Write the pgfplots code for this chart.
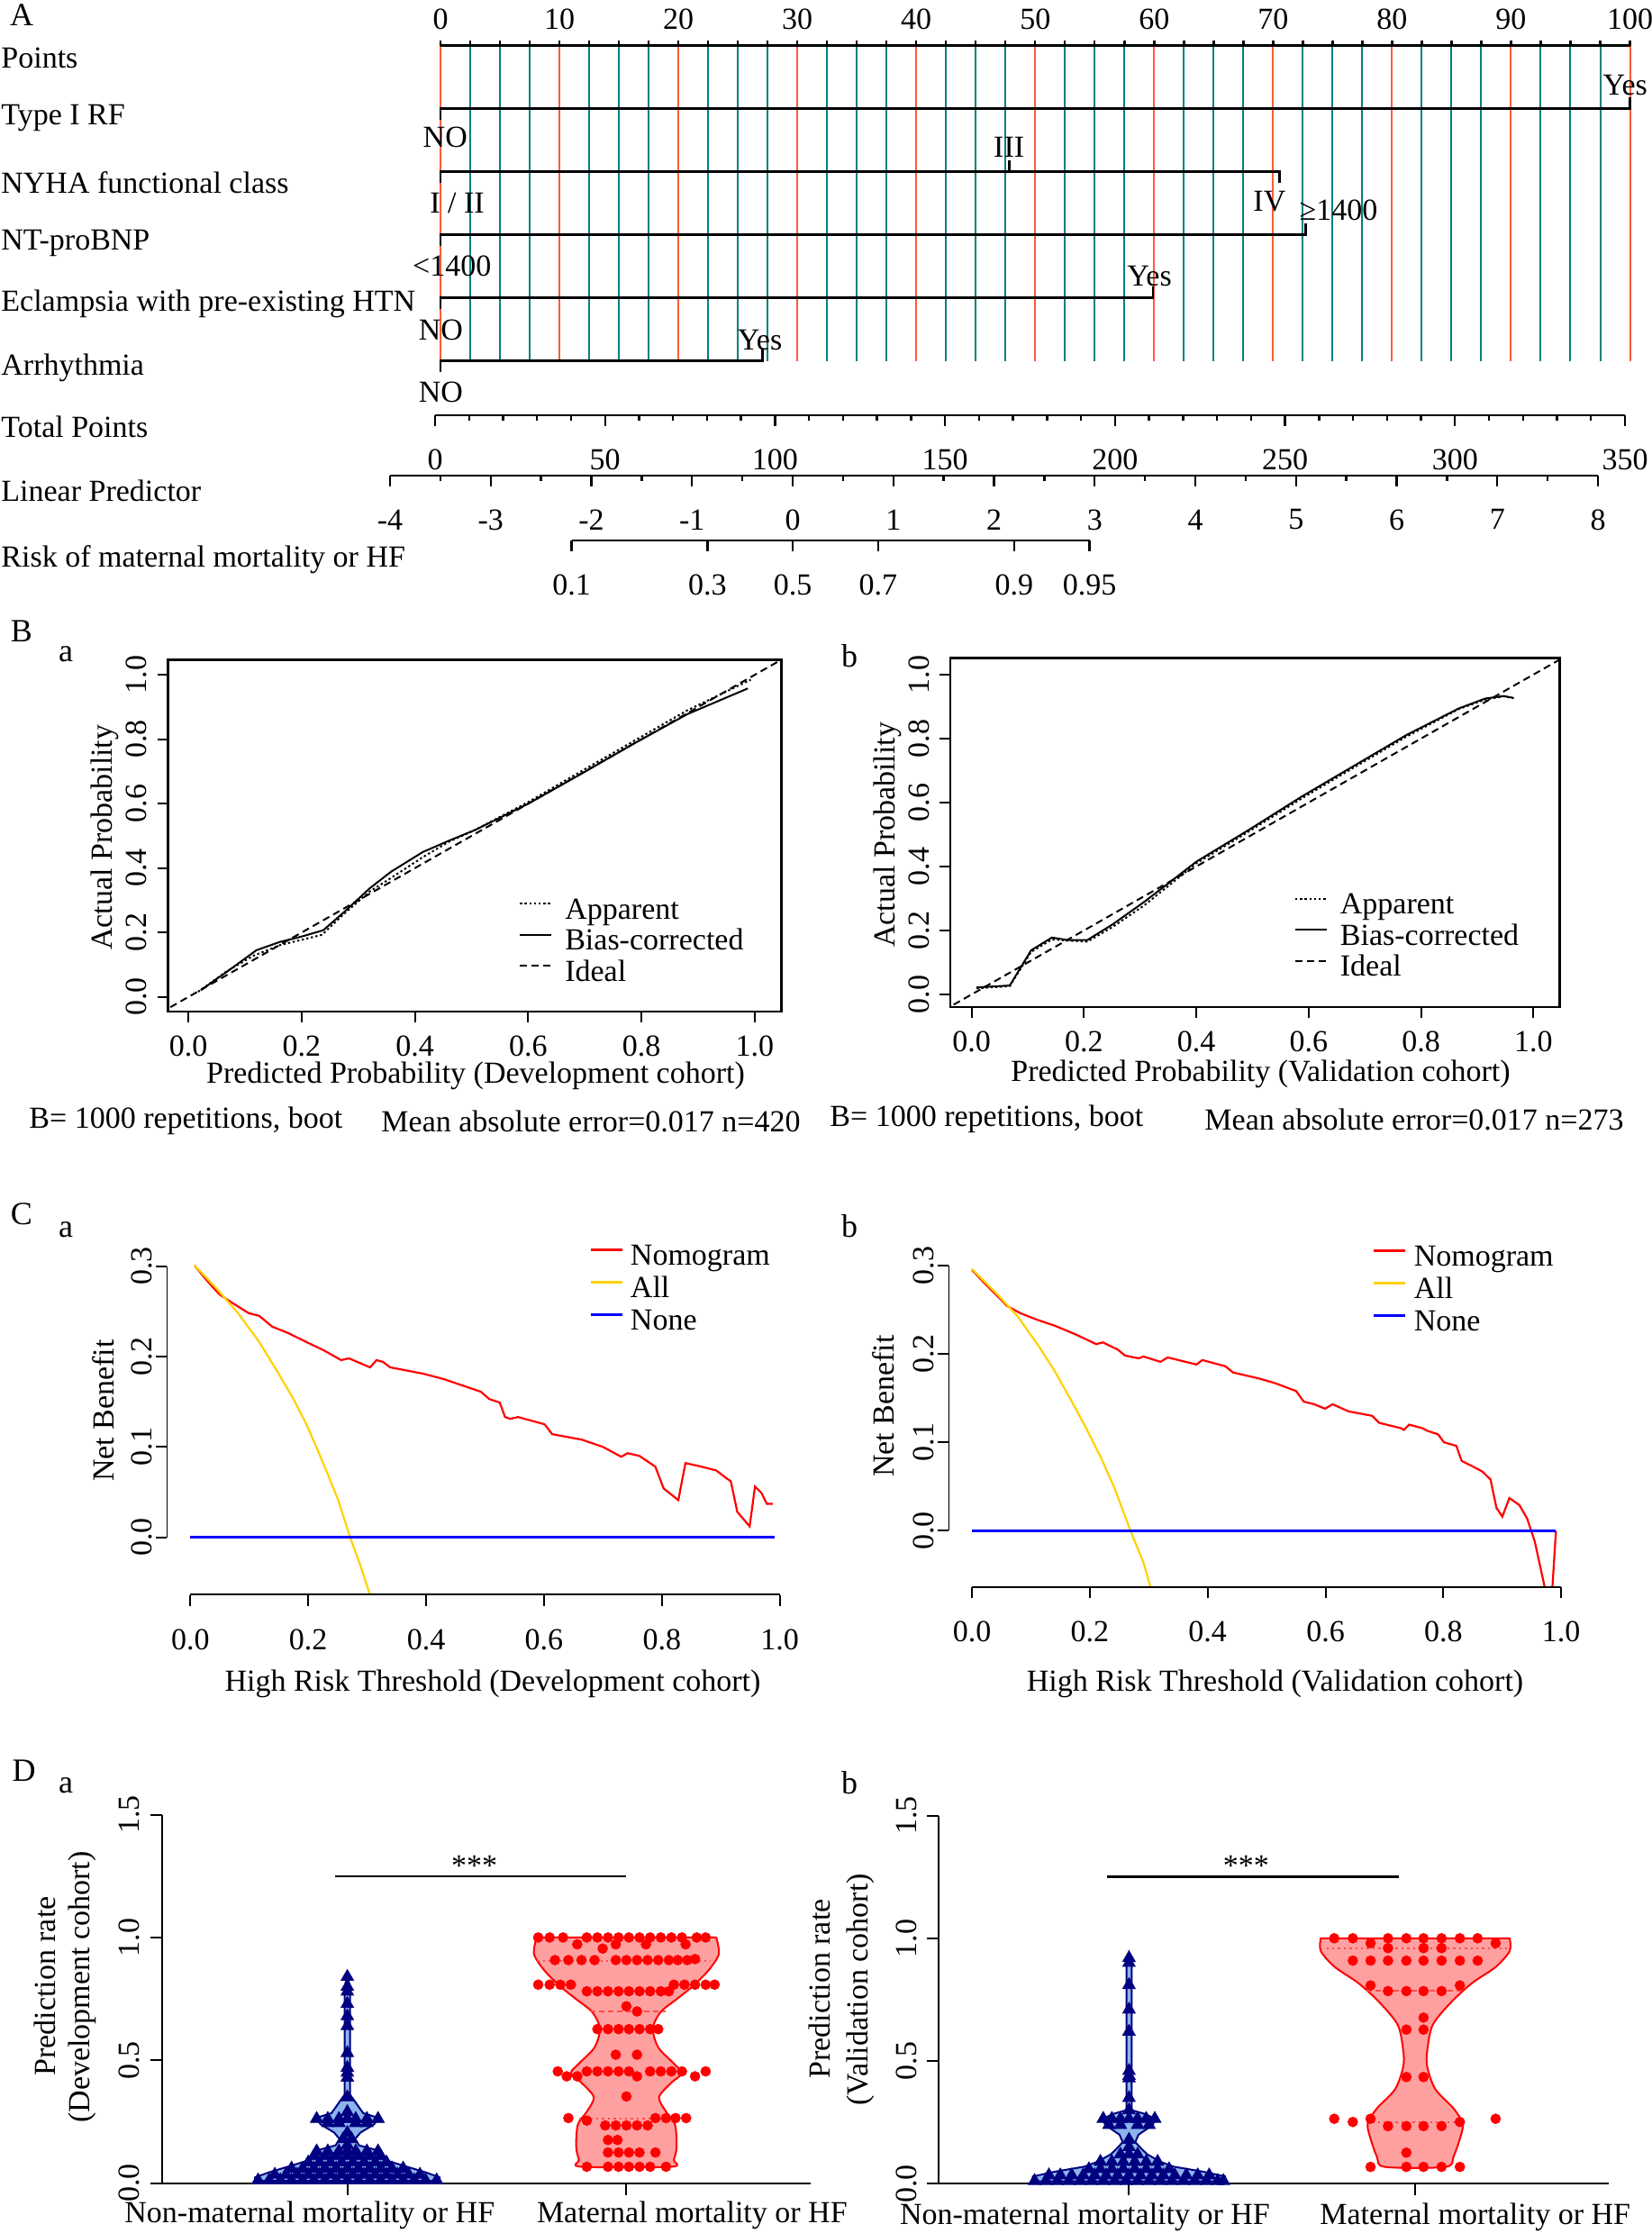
\documentclass[border=0pt]{standalone}
\usepackage{fontspec}
\setmainfont{Liberation Serif}
\usepackage{pgfplots}
\pgfplotsset{compat=1.18}

\definecolor{gridred}{RGB}{255,90,60}
\definecolor{gridteal}{RGB}{0,130,125}
\definecolor{dcared}{RGB}{255,0,0}
\definecolor{dcayellow}{RGB}{255,210,0}
\definecolor{dcablue}{RGB}{0,0,255}
\definecolor{vnavy}{RGB}{0,0,128}
\definecolor{vlblue}{RGB}{140,180,235}
\definecolor{vpink}{RGB}{255,160,160}

\pgfplotsset{
  scale only axis,
  px/.style 2 args={at={({#1*0.5pt},{-#2*0.5pt})}},
  nomoscale/.style={anchor=south west, axis x line=bottom, axis y line=none,
    axis line style={-, line width=1.4pt}, tick align=outside,
    tick style={black, line width=1.2pt}, major tick length=6pt, minor tick length=3pt,
    ymin=0, ymax=1, height=1pt, xticklabel style={yshift=-7pt}},
  calib/.style={anchor=south west, axis line style={line width=1.2pt},
    tick align=outside, xtick pos=left, ytick pos=left,
    tick style={black, line width=1pt}, major tick length=6pt,
    xtick={0,0.2,0.4,0.6,0.8,1}, xticklabels={0.0,0.2,0.4,0.6,0.8,1.0},
    ytick={0,0.2,0.4,0.6,0.8,1}, yticklabels={0.0,0.2,0.4,0.6,0.8,1.0},
    yticklabel style={rotate=90, anchor=south}, xticklabel style={yshift=-1.5pt},
    legend cell align=left,
    legend image code/.code={\draw[#1] (0pt,4pt) -- (17.5pt,4pt);},
    legend style={draw=none, fill=none, row sep=2.25pt, column sep=3pt,
      nodes={inner ysep=0pt, inner xsep=4pt, text height=12pt, text depth=3pt}}},
  dca/.style={anchor=south west, axis line style={draw=none},
    xmin=-0.04, xmax=1.04, ymin=-0.064, ymax=0.314,
    tick align=outside, xtick pos=left, ytick pos=left,
    tick style={black, line width=1pt}, major tick length=6pt,
    xtick={0,0.2,0.4,0.6,0.8,1}, xticklabels={0.0,0.2,0.4,0.6,0.8,1.0},
    ytick={0,0.1,0.2,0.3}, yticklabels={0.0,0.1,0.2,0.3},
    yticklabel style={rotate=90, anchor=south}, yticklabel shift=-4pt,
    xticklabel style={yshift=-7pt},
    legend cell align=left,
    legend image code/.code={\draw[#1] (0pt,4pt) -- (17.5pt,4pt);},
    legend style={draw=none, fill=none, row sep=3pt,
      nodes={inner ysep=0pt, inner xsep=4pt, text height=12pt, text depth=3pt}}},
  viol/.style={anchor=south west, axis x line=bottom, axis y line=left,
    axis line style={-, line width=1pt}, tick align=outside,
    tick style={black, line width=1pt}, major tick length=6.5pt,
    ymin=0, ymax=1.5, xtick={1,2}, xticklabels={{},{}},
    ytick={0,0.5,1,1.5}, yticklabels={0.0,0.5,1.0,1.5},
    yticklabel style={rotate=90, anchor=south}, clip=false},
}

\begin{document}
\fontsize{17}{20}\selectfont
\begin{tikzpicture}
\path[use as bounding box] (0pt,0pt) rectangle (917pt,-1239.5pt);

% ---------------- A: nomogram ----------------
\begin{axis}[px={489}{401.2}, anchor=south west,
  width=660.25pt, height=175.25pt,
  xmin=0, xmax=100, ymin=-5.015, ymax=0,
  axis x line=top, axis y line=none,
  axis line style={-, line width=1.4pt},
  xtick={0,10,...,100}, xticklabels={0,10,20,30,40,50,60,70,80,90,100},
  minor x tick num=3, tick align=outside,
  major tick length=3pt, minor tick length=3pt,
  tick style={black, line width=1.2pt},
  xmajorgrids, xminorgrids,
  major grid style={gridred, line width=1pt},
  minor grid style={gridteal, line width=1pt},
  clip=false]
\addplot[black, line width=1.4pt] coordinates {(0,-1.18) (0,-1) (100,-1) (100,-0.82)};
\addplot[black, line width=1.4pt] coordinates {(0,-2.18) (0,-2) (70.55,-2) (70.55,-2.18)};
\addplot[black, line width=1.4pt] coordinates {(47.8,-2) (47.8,-1.82)};
\addplot[black, line width=1.4pt] coordinates {(0,-3.18) (0,-3) (72.75,-3) (72.75,-2.82)};
\addplot[black, line width=1.4pt] coordinates {(0,-4.18) (0,-4) (59.9,-4) (59.9,-3.82)};
\addplot[black, line width=1.4pt] coordinates {(0,-5.18) (0,-5) (27.1,-5) (27.1,-4.82)};
\node[inner sep=0pt] at (axis cs:99.6,-0.634) {Yes};
\node[inner sep=0pt] at (axis cs:0.4,-1.449) {NO};
\node[inner sep=0pt] at (axis cs:47.8,-1.607) {III};
\node[inner sep=0pt] at (axis cs:1.41,-2.5) {I / II};
\node[inner sep=0pt] at (axis cs:69.7,-2.48) {IV};
\node[inner sep=0pt] at (axis cs:0.97,-3.495) {<1400};
\node[inner sep=0pt] at (axis cs:75.5,-2.62) {≥1400};
\node[inner sep=0pt] at (axis cs:0.03,-4.51) {NO};
\node[inner sep=0pt] at (axis cs:59.6,-3.66) {Yes};
\node[inner sep=0pt] at (axis cs:0.03,-5.5) {NO};
\node[inner sep=0pt] at (axis cs:26.85,-4.67) {Yes};
\end{axis}

% Total points
\begin{axis}[nomoscale, px={483}{461}, width=660.5pt,
  xmin=0, xmax=350, xtick={0,50,...,350},
  xticklabels={0,50,100,150,200,250,300,350}, minor x tick num=4]
\addplot[draw=none] coordinates {(0,0)};
\end{axis}
% Linear predictor
\begin{axis}[nomoscale, px={433}{528}, width=670.5pt,
  xmin=-4, xmax=8, xtick={-4,-3,...,8},
  xticklabels={-4,-3,-2,-1,0,1,2,3,4,5,6,7,8}, minor x tick num=1]
\addplot[draw=none] coordinates {(0,0)};
\end{axis}
% Risk (placed on the linear predictor scale)
\begin{axis}[nomoscale, px={634.5}{600}, width=287.5pt,
  xmin=-2.1972, xmax=2.9444,
  xtick={-2.1972,-0.8473,0,0.8473,2.1972,2.9444},
  xticklabels={0.1,0.3,0.5,0.7,0.9,0.95}]
\addplot[draw=none] coordinates {(0,0)};
\end{axis}

\begin{scope}[x=0.5pt, y=-0.5pt, every node/.style={inner sep=0pt}]
\node[font=\fontsize{18}{20}\selectfont] at (24,17) {A};
\node[anchor=west] at (1,64) {Points};
\node[anchor=west] at (1,131) {Type I RF};
\node[anchor=west] at (1,203) {NYHA functional class};
\node[anchor=west] at (1,270) {NT-proBNP};
\node[anchor=west] at (1,337) {Eclampsia with pre-existing HTN};
\node[anchor=west] at (1,408.5) {Arrhythmia};
\node[anchor=west] at (1,474) {Total Points};
\node[anchor=west] at (1,545) {Linear Predictor};
\node[anchor=west] at (1,621) {Risk of maternal mortality or HF};
\end{scope}

% ---------------- B: calibration ----------------
\begin{axis}[calib, px={186.6}{1122.8}, width=340.4pt, height=195.2pt,
  xmin=-0.036, xmax=1.047, ymin=-0.045, ymax=1.047,
  legend style={at={(0.563,0.335)}, anchor=north west}]
\addplot[black, line width=1pt, dash pattern=on 1.2pt off 1.4pt] coordinates {
(0.017,0.016) (0.068,0.080) (0.115,0.128) (0.162,0.161) (0.199,0.177) (0.236,0.193)
(0.274,0.257) (0.320,0.327) (0.367,0.380) (0.414,0.434) (0.460,0.482) (0.507,0.519)
(0.600,0.605) (0.694,0.701) (0.787,0.795) (0.880,0.889) (0.993,0.985)};
\addlegendentry{Apparent}
\addplot[black, line width=1pt] coordinates {
(0.022,0.021) (0.078,0.091) (0.120,0.145) (0.162,0.171) (0.199,0.187) (0.238,0.207)
(0.274,0.262) (0.320,0.337) (0.358,0.389) (0.414,0.450) (0.460,0.485) (0.507,0.519)
(0.600,0.600) (0.694,0.693) (0.787,0.787) (0.881,0.878) (0.988,0.958)};
\addlegendentry{Bias-corrected}
\addplot[black, line width=1pt, dash pattern=on 4pt off 2.5pt] coordinates {(-0.05,-0.05) (1.06,1.06)};
\addlegendentry{Ideal}
\end{axis}

\begin{axis}[calib, px={1055.2}{1118.2}, width=338.1pt, height=193.85pt,
  xmin=-0.0375, xmax=1.0467, ymin=-0.04, ymax=1.0518,
  legend style={at={(0.555,0.34)}, anchor=north west}]
\addplot[black, line width=1pt, dash pattern=on 1.2pt off 1.4pt] coordinates {
(0.009,0.019) (0.068,0.026) (0.106,0.133) (0.143,0.172) (0.176,0.168) (0.206,0.165)
(0.251,0.211) (0.307,0.278) (0.353,0.343) (0.400,0.410) (0.494,0.510) (0.587,0.612)
(0.680,0.709) (0.774,0.806) (0.867,0.892) (0.914,0.922) (0.947,0.932) (0.965,0.926)};
\addlegendentry{Apparent}
\addplot[black, line width=1pt] coordinates {
(0.009,0.022) (0.068,0.028) (0.106,0.138) (0.143,0.178) (0.171,0.170) (0.206,0.170)
(0.251,0.219) (0.307,0.289) (0.353,0.351) (0.400,0.415) (0.494,0.515) (0.587,0.618)
(0.680,0.714) (0.774,0.811) (0.867,0.894) (0.914,0.925) (0.947,0.933) (0.965,0.927)};
\addlegendentry{Bias-corrected}
\addplot[black, line width=1pt, dash pattern=on 4pt off 2.5pt] coordinates {(-0.05,-0.05) (1.06,1.06)};
\addlegendentry{Ideal}
\end{axis}

\begin{scope}[x=0.5pt, y=-0.5pt, every node/.style={inner sep=0pt}]
\node[font=\fontsize{18}{20}\selectfont] at (24,700.7) {B};
\node[font=\fontsize{18}{20}\selectfont] at (73,726.7) {a};
\node[font=\fontsize{18}{20}\selectfont] at (943,728) {b};
\node at (528,1194) {Predicted Probability (Development cohort)};
\node[rotate=90] at (116,929.7) {Actual Probability};
\node[anchor=west] at (32,1244.5) {B= 1000 repetitions, boot};
\node[anchor=east] at (889,1244.5) {Mean absolute error=0.017 n=420};
\node at (1399.5,1192) {Predicted Probability (Validation cohort)};
\node[rotate=90] at (985.3,926.8) {Actual Probability};
\node[anchor=west] at (921,1242.6) {B= 1000 repetitions, boot};
\node[anchor=east] at (1803,1242.6) {Mean absolute error=0.017 n=273};
\end{scope}

% ---------------- C: decision curves ----------------
\begin{axis}[dca, px={185.1}{1770.7}, width=353.35pt, height=189.55pt,
  legend style={at={(0.655,1.041)}, anchor=north west}]
\addplot[dcared, line width=1.1pt] coordinates {
(0.007,0.301) (0.027,0.285) (0.049,0.269) (0.072,0.259) (0.099,0.248) (0.117,0.245)
(0.139,0.233) (0.166,0.226) (0.197,0.216) (0.226,0.207) (0.256,0.196) (0.269,0.198)
(0.305,0.188) (0.316,0.196) (0.327,0.194) (0.339,0.188) (0.395,0.181) (0.430,0.175)
(0.466,0.167) (0.493,0.161) (0.507,0.153) (0.525,0.149) (0.534,0.133) (0.543,0.131)
(0.556,0.133) (0.601,0.125) (0.614,0.114) (0.664,0.108) (0.700,0.100) (0.731,0.089)
(0.742,0.093) (0.762,0.090) (0.789,0.078) (0.803,0.054) (0.828,0.041) (0.840,0.082)
(0.861,0.079) (0.892,0.074) (0.910,0.065) (0.917,0.062) (0.928,0.028) (0.949,0.012)
(0.958,0.056) (0.969,0.049) (0.978,0.037) (0.988,0.037)};
\addlegendentry{Nomogram}
\addplot[dcayellow, line width=1.1pt] coordinates {
(0.007,0.301) (0.045,0.275) (0.081,0.248) (0.117,0.216) (0.148,0.183) (0.175,0.153)
(0.197,0.125) (0.215,0.098) (0.233,0.070) (0.251,0.041) (0.271,0.000) (0.289,-0.032)
(0.305,-0.064)};
\addlegendentry{All}
\addplot[dcablue, line width=1.3pt] coordinates {(0,0) (0.991,0)};
\addlegendentry{None}
\draw[line width=1pt] (axis cs:-0.04,0) -- (axis cs:-0.04,0.3);
\draw[line width=1.6pt] (axis cs:0,-0.064) -- (axis cs:1,-0.064);
\end{axis}

\begin{axis}[dca, px={1052.9}{1762.2}, width=353.25pt, height=185.55pt,
  legend style={at={(0.658,1.038)}, anchor=north west}]
\addplot[dcared, line width=1.1pt] coordinates {
(0.000,0.295) (0.024,0.278) (0.042,0.266) (0.060,0.254) (0.082,0.246) (0.113,0.238)
(0.140,0.232) (0.176,0.222) (0.211,0.211) (0.222,0.213) (0.247,0.205) (0.260,0.198)
(0.283,0.195) (0.291,0.197) (0.320,0.191) (0.332,0.196) (0.381,0.188) (0.391,0.193)
(0.430,0.186) (0.443,0.179) (0.488,0.172) (0.514,0.167) (0.550,0.158) (0.563,0.146)
(0.581,0.143) (0.599,0.138) (0.612,0.143) (0.639,0.135) (0.679,0.130) (0.691,0.122)
(0.728,0.116) (0.733,0.114) (0.742,0.120) (0.764,0.116) (0.773,0.113) (0.791,0.109)
(0.801,0.100) (0.822,0.096) (0.831,0.079) (0.849,0.073) (0.866,0.067) (0.880,0.058)
(0.890,0.026) (0.900,0.016) (0.912,0.037) (0.929,0.029) (0.942,0.014) (0.955,-0.012)
(0.972,-0.064) (0.985,-0.064) (0.991,0.000)};
\addlegendentry{Nomogram}
\addplot[dcayellow, line width=1.1pt] coordinates {
(0.000,0.296) (0.042,0.268) (0.078,0.242) (0.113,0.209) (0.140,0.181) (0.167,0.149)
(0.193,0.117) (0.220,0.081) (0.242,0.048) (0.269,0.000) (0.291,-0.036) (0.303,-0.064)};
\addlegendentry{All}
\addplot[dcablue, line width=1.3pt] coordinates {(0,0) (0.991,0)};
\addlegendentry{None}
\draw[line width=1pt] (axis cs:-0.04,0) -- (axis cs:-0.04,0.3);
\draw[line width=1.6pt] (axis cs:0,-0.064) -- (axis cs:1,-0.064);
\end{axis}

\begin{scope}[x=0.5pt, y=-0.5pt, every node/.style={inner sep=0pt}]
\node[font=\fontsize{18}{20}\selectfont] at (24,1347.5) {C};
\node[font=\fontsize{18}{20}\selectfont] at (73,1365) {a};
\node[font=\fontsize{18}{20}\selectfont] at (943,1361) {b};
\node at (547,1869) {High Risk Threshold (Development cohort)};
\node[rotate=90] at (114.4,1566) {Net Benefit};
\node at (1415.5,1869) {High Risk Threshold (Validation cohort)};
\node[rotate=90] at (981,1561) {Net Benefit};
\end{scope}

% ---------------- D: violin plots ----------------
\begin{axis}[viol, px={180.2}{2423.7}, width=359.85pt, height=204.6pt,
  xmin=0.337, xmax=2.66]
\addplot[draw=vnavy, fill=vlblue, line width=1pt] coordinates {
(1.331,0.01) (1.331,0.0235) (1.284,0.043) (1.208,0.069) (1.133,0.095) (1.104,0.135)
(1.042,0.154) (1.028,0.18) (1.047,0.206) (1.095,0.239) (1.114,0.265) (1.057,0.285)
(1.01,0.36) (1.01,0.80) (1.0,0.84) (0.99,0.80) (0.99,0.36) (0.943,0.285) (0.886,0.265)
(0.905,0.239) (0.953,0.206) (0.972,0.18) (0.958,0.154) (0.896,0.135) (0.867,0.095)
(0.792,0.069) (0.716,0.043) (0.669,0.0235) (0.669,0.01)} -- cycle;
\addplot[only marks, mark=triangle*, mark size=4pt, vnavy] coordinates {
(0.68,0.012) (0.72,0.012) (0.76,0.012) (0.80,0.012) (0.84,0.012) (0.88,0.012) (0.92,0.012)
(0.96,0.012) (1.00,0.012) (1.04,0.012) (1.08,0.012) (1.12,0.012) (1.16,0.012) (1.20,0.012)
(1.24,0.012) (1.28,0.012) (1.32,0.012)
(0.74,0.035) (0.78,0.035) (0.82,0.035) (0.86,0.035) (0.90,0.035) (0.94,0.035) (0.98,0.035)
(1.02,0.035) (1.06,0.035) (1.10,0.035) (1.14,0.035) (1.18,0.035) (1.22,0.035) (1.26,0.035)
(0.80,0.06) (0.84,0.06) (0.88,0.06) (0.92,0.06) (0.96,0.06) (1.00,0.06) (1.04,0.06)
(1.08,0.06) (1.12,0.06) (1.16,0.06) (1.20,0.06)
(0.86,0.085) (0.90,0.085) (0.94,0.085) (0.98,0.085) (1.02,0.085) (1.06,0.085) (1.10,0.085) (1.14,0.085)
(0.88,0.11) (0.92,0.11) (0.96,0.11) (1.00,0.11) (1.04,0.11) (1.08,0.11) (1.12,0.11)
(0.89,0.13) (0.93,0.13) (0.97,0.13) (1.00,0.13) (1.03,0.13) (1.07,0.13) (1.11,0.13)
(1.0,0.155) (0.985,0.18) (1.015,0.18) (1.0,0.205)
(0.93,0.245) (0.97,0.245) (1.03,0.245) (1.07,0.245)
(0.89,0.262) (0.93,0.262) (0.97,0.262) (1.00,0.262) (1.03,0.262) (1.07,0.262) (1.11,0.262)
(1,0.29) (1,0.35) (1,0.43) (1,0.45) (1,0.47) (1,0.53) (1,0.64) (1,0.68) (1,0.73)
(1,0.78) (1,0.80) (1,0.84)};
\addplot[draw=dcared, fill=vpink, line width=1pt, smooth, tension=0.5] coordinates {
(2.322,1.0) (2.331,0.932) (2.294,0.866) (2.237,0.801) (2.18,0.749) (2.123,0.697)
(2.095,0.631) (2.114,0.553) (2.17,0.487) (2.199,0.448) (2.161,0.409) (2.117,0.35)
(2.142,0.291) (2.174,0.239) (2.18,0.148) (2.17,0.095) (2.161,0.067)
(1.839,0.067) (1.83,0.095) (1.82,0.148) (1.826,0.239) (1.858,0.291) (1.883,0.35)
(1.839,0.409) (1.801,0.448) (1.83,0.487) (1.886,0.553) (1.905,0.631) (1.877,0.697)
(1.82,0.749) (1.763,0.801) (1.706,0.866) (1.669,0.932) (1.678,1.0)} -- cycle;
\addplot[dcared!70, line width=1pt, dash pattern=on 1.2pt off 2pt] coordinates {(1.68,0.903) (2.30,0.903)};
\addplot[dcared!70, line width=1pt, dash pattern=on 3pt off 2pt] coordinates {(1.87,0.70) (2.14,0.70)};
\addplot[dcared!70, line width=1pt, dash pattern=on 1.2pt off 2pt] coordinates {(1.83,0.263) (2.18,0.263)};
\addplot[only marks, mark=*, mark size=2.7pt, dcared] coordinates {
(1.684,1.0) (1.725,1.0) (1.773,1.0) (1.858,1.0) (1.896,1.0) (1.934,1.0) (1.972,1.0)
(2.009,1.0) (2.047,1.0) (2.085,1.0) (2.123,1.0) (2.161,1.0) (2.199,1.0) (2.252,1.0) (2.284,1.0)
(1.824,0.972) (1.962,0.972) (2.07,0.972) (2.212,0.972) (1.915,0.955)
(1.744,0.908) (1.792,0.908) (1.839,0.908) (1.886,0.908) (1.962,0.908) (2.0,0.908) (2.038,0.908)
(2.076,0.908) (2.114,0.908) (2.152,0.908) (2.184,0.908) (2.218,0.908) (2.246,0.912)
(1.684,0.808) (1.725,0.808) (1.763,0.808) (1.801,0.808) (2.17,0.808) (2.208,0.808)
(2.246,0.808) (2.284,0.808) (2.316,0.808)
(1.858,0.781) (1.896,0.781) (1.934,0.781) (1.972,0.781) (2.009,0.781) (2.047,0.781)
(2.085,0.781) (2.123,0.781) (2.152,0.781)
(2.0,0.72) (2.038,0.699)
(1.896,0.627) (1.934,0.627) (1.972,0.627) (2.009,0.627) (2.047,0.627) (2.085,0.627) (2.114,0.627)
(1.962,0.523) (2.038,0.523)
(1.754,0.455) (1.858,0.455) (1.896,0.455) (1.934,0.455) (1.972,0.455) (2.009,0.455)
(2.085,0.455) (2.123,0.455) (2.161,0.455) (2.199,0.455) (2.284,0.455)
(1.786,0.435) (1.824,0.435) (2.038,0.435) (2.246,0.435)
(2.0,0.353)
(1.792,0.265) (2.104,0.265) (2.142,0.265) (2.176,0.265) (2.214,0.265) (1.858,0.255)
(1.924,0.235) (1.962,0.235) (2.0,0.235) (2.038,0.235) (2.076,0.235)
(1.934,0.176) (1.968,0.176)
(1.934,0.125) (1.972,0.125) (2.009,0.125) (2.047,0.125) (2.104,0.125)
(1.858,0.067) (1.934,0.067) (1.972,0.067) (2.009,0.067) (2.047,0.067) (2.085,0.067) (2.142,0.067)};
\draw[line width=1.2pt] (axis cs:0.9545,1.248) -- (axis cs:2.0,1.248);
\end{axis}

\begin{axis}[viol, px={1042.4}{2424.4}, width=371.6pt, height=204.45pt,
  xmin=0.336, xmax=2.675]
\addplot[draw=vnavy, fill=vlblue, line width=1pt] coordinates {
(1.336,0.01) (1.336,0.03) (1.257,0.05) (1.156,0.07) (1.11,0.09) (1.064,0.12) (1.046,0.14)
(1.022,0.17) (1.033,0.2) (1.083,0.24) (1.092,0.265) (1.055,0.285) (1.009,0.3) (1.009,0.9)
(1.0,0.94) (0.991,0.9) (0.991,0.3) (0.945,0.285) (0.908,0.265) (0.917,0.24) (0.967,0.2)
(0.978,0.17) (0.954,0.14) (0.936,0.12) (0.89,0.09) (0.844,0.07) (0.743,0.05) (0.664,0.03)
(0.664,0.01)} -- cycle;
\addplot[only marks, mark=triangle*, mark size=4pt, vnavy] coordinates {
(0.67,0.012) (0.71,0.012) (0.75,0.012) (0.79,0.012) (0.83,0.012) (0.87,0.012) (0.91,0.012)
(0.95,0.012) (0.99,0.012) (1.03,0.012) (1.07,0.012) (1.11,0.012) (1.15,0.012) (1.19,0.012)
(1.23,0.012) (1.27,0.012) (1.31,0.012) (1.33,0.012)
(0.72,0.035) (0.76,0.035) (0.80,0.035) (0.84,0.035) (0.88,0.035) (0.92,0.035) (0.96,0.035)
(1.00,0.035) (1.04,0.035) (1.08,0.035) (1.12,0.035) (1.16,0.035) (1.20,0.035) (1.24,0.035) (1.28,0.035)
(0.86,0.06) (0.90,0.06) (0.94,0.06) (0.98,0.06) (1.02,0.06) (1.06,0.06) (1.10,0.06) (1.14,0.06)
(0.90,0.09) (0.94,0.09) (0.98,0.09) (1.02,0.09) (1.06,0.09) (1.10,0.09)
(0.97,0.12) (1.0,0.12) (1.03,0.12) (1.0,0.15) (1.0,0.18)
(0.93,0.24) (0.97,0.24) (1.03,0.24) (1.07,0.24)
(0.91,0.265) (0.94,0.265) (0.97,0.265) (1.0,0.265) (1.03,0.265) (1.06,0.265) (1.09,0.265)
(1,0.30) (1,0.35) (1,0.43) (1,0.44) (1,0.46) (1,0.62) (1,0.71) (1,0.81) (1,0.90) (1,0.92)};
\addplot[draw=dcared, fill=vpink, line width=1pt, smooth, tension=0.5] coordinates {
(2.33,1.0) (2.33,0.948) (2.281,0.883) (2.198,0.817) (2.125,0.739) (2.061,0.647)
(2.042,0.543) (2.042,0.477) (2.07,0.386) (2.134,0.307) (2.165,0.248) (2.161,0.203)
(2.134,0.111) (2.106,0.069)
(1.894,0.069) (1.866,0.111) (1.839,0.203) (1.835,0.248) (1.866,0.307) (1.93,0.386)
(1.958,0.477) (1.958,0.543) (1.939,0.647) (1.875,0.739) (1.802,0.817) (1.719,0.883)
(1.67,0.948) (1.67,1.0)} -- cycle;
\addplot[dcared!70, line width=1pt, dash pattern=on 1.2pt off 2pt] coordinates {(1.69,0.96) (2.32,0.96)};
\addplot[dcared!70, line width=1pt, dash pattern=on 3pt off 2pt] coordinates {(1.83,0.785) (2.17,0.785)};
\addplot[dcared!70, line width=1pt, dash pattern=on 1.2pt off 2pt] coordinates {(1.83,0.252) (2.16,0.252)};
\addplot[only marks, mark=*, mark size=2.7pt, dcared] coordinates {
(1.717,1.0) (1.782,1.0) (1.905,1.0) (1.969,1.0) (2.029,1.0) (2.092,1.0) (2.156,1.0) (2.218,1.0)
(1.844,0.98) (2.281,0.98) (1.905,0.96) (2.029,0.96) (2.092,0.96)
(1.782,0.909) (1.844,0.909) (1.905,0.909) (1.969,0.909) (2.029,0.909) (2.092,0.909)
(2.156,0.909) (2.218,0.909)
(1.844,0.808) (2.156,0.808) (1.905,0.785) (1.969,0.785) (2.029,0.785) (2.092,0.785)
(2.029,0.677) (1.969,0.628) (2.029,0.628) (1.969,0.435) (2.029,0.435)
(1.717,0.265) (1.844,0.265) (2.281,0.265) (1.782,0.252) (2.156,0.252)
(1.905,0.235) (1.969,0.235) (2.029,0.235) (2.092,0.235)
(1.969,0.127)
(1.844,0.069) (1.969,0.069) (2.029,0.069) (2.092,0.069) (2.156,0.069)};
\draw[line width=1.2pt] (axis cs:0.923,1.251) -- (axis cs:1.9415,1.251);
\end{axis}

\begin{scope}[x=0.5pt, y=-0.5pt, every node/.style={inner sep=0pt}]
\node[font=\fontsize{18}{20}\selectfont] at (26.5,1965.5) {D};
\node[font=\fontsize{18}{20}\selectfont] at (73,1982) {a};
\node[font=\fontsize{18}{20}\selectfont] at (943,1979) {b};
\node at (526.7,2071.5) {***};
\node at (1383.4,2071.5) {***};
\node[rotate=90] at (50,2205) {Prediction rate};
\node[rotate=90] at (91,2206) {(Development cohort)};
\node[rotate=90] at (910,2208) {Prediction rate};
\node[rotate=90] at (955,2209) {(Validation cohort)};
\node[anchor=base west] at (138,2467) {Non-maternal mortality or HF};
\node[anchor=base west] at (595.6,2467) {Maternal mortality or HF};
\node[anchor=base west] at (998.7,2469) {Non-maternal mortality or HF};
\node[anchor=base west] at (1465,2469) {Maternal mortality or HF};
\end{scope}

\end{tikzpicture}
\end{document}
